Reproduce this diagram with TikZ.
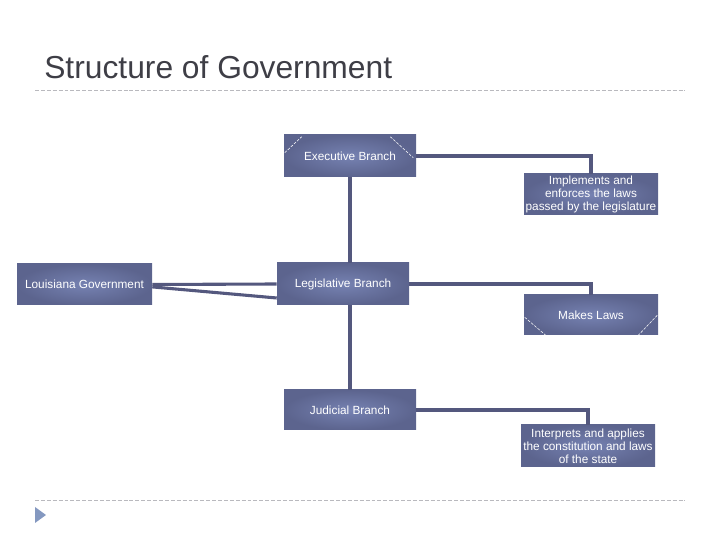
\documentclass[tikz,border=0pt]{standalone}
\usepackage{fontspec}
\setmainfont{Liberation Sans}
\usepackage{tikz}
\usetikzlibrary{positioning,calc}
\usetikzlibrary{arrows.meta}

\definecolor{boxdark}{RGB}{92,100,142}
\definecolor{boxlight}{RGB}{118,130,178}
\definecolor{linkcol}{RGB}{84,88,126}
\definecolor{titlecol}{RGB}{62,62,70}
\definecolor{rulecol}{RGB}{185,185,190}
\definecolor{bulletcol}{RGB}{132,152,192}

\begin{document}
\begin{tikzpicture}[scale=1,>=Stealth,
  branchbox/.style={rectangle,inner color=boxlight,outer color=boxdark,
    text=white,inner sep=0pt,align=center,
    font=\fontsize{8.4}{9.4}\selectfont},
  link/.style={linkcol,line width=2.2pt},
  bevel/.style={white,line width=0.4pt,dash pattern=on 2pt off 1pt},
  rule/.style={rulecol,line width=0.6pt,dash pattern=on 2.8pt off 1.4pt}]

\useasboundingbox (0,0) rectangle (18,13.5);

% Title
\node[anchor=base west,inner sep=0pt,text=titlecol,
  font=\fontsize{22.6}{26}\selectfont] (title) at (1.1,11.525)
{Structure of Government};

\draw[rule] (0.875,11.25) -- (17.125,11.25);
\draw[rule] (0.875,1.0) -- (17.125,1.0);

% Bullet
\fill[bulletcol] (0.875,0.825) -- (1.15,0.625) -- (0.875,0.425) -- cycle;

% Branches
\node[branchbox,minimum width=3.3cm,minimum height=1.05cm] (exec)
at (8.75,9.6) {Executive Branch};
\node[branchbox,minimum width=3.3cm,minimum height=1.05cm] (leg)
at (8.575,6.4) {Legislative Branch};
\node[branchbox,minimum width=3.3cm,minimum height=1.0cm] (jud)
at (8.75,3.25) {Judicial Branch};

\node[branchbox,minimum width=3.375cm,minimum height=1.025cm] (la)
at (2.1125,6.3875) {Louisiana Government};

% Duties
\node[branchbox,minimum width=3.35cm,minimum height=1.025cm] (impl)
at (14.775,8.6375) {Implements and\\enforces the laws\\passed by the legislature};
\node[branchbox,minimum width=3.35cm,minimum height=1.0cm] (laws)
at (14.775,5.625) {Makes Laws};
\node[branchbox,minimum width=3.35cm,minimum height=1.05cm] (interp)
at (14.7,2.35) {Interprets and applies\\the constitution and laws\\of the state};

% Bevel marks
\draw[bevel] ($(exec.north west)+(0.025,-0.45)$) -- ($(exec.north west)+(0.45,-0.05)$);
\draw[bevel] ($(exec.north east)+(-0.65,-0.05)$) -- ($(exec.north east)+(-0.075,-0.575)$);
\draw[bevel] ($(laws.south west)+(0.025,0.45)$) -- ($(laws.south west)+(0.55,0)$);
\draw[bevel] ($(laws.south east)+(-0.025,0.5)$) -- ($(laws.south east)+(-0.5,0)$);

% Trunk
\draw[link] (exec.south) -- (exec.south |- leg.north);
\draw[link] (leg.south -| exec.south) -- (jud.north);

% Branch to duty
\draw[link] (exec.east) -| (impl.north);
\draw[link] (leg.east) -| (laws.north);
\draw[link] (jud.east) -| (interp.north);

% State to legislature
\draw[link] (la.east) -- (leg.west);
\draw[link] ([yshift=-0.06cm]la.east) -- ([yshift=-0.35cm]leg.west);

\end{tikzpicture}
\end{document}
